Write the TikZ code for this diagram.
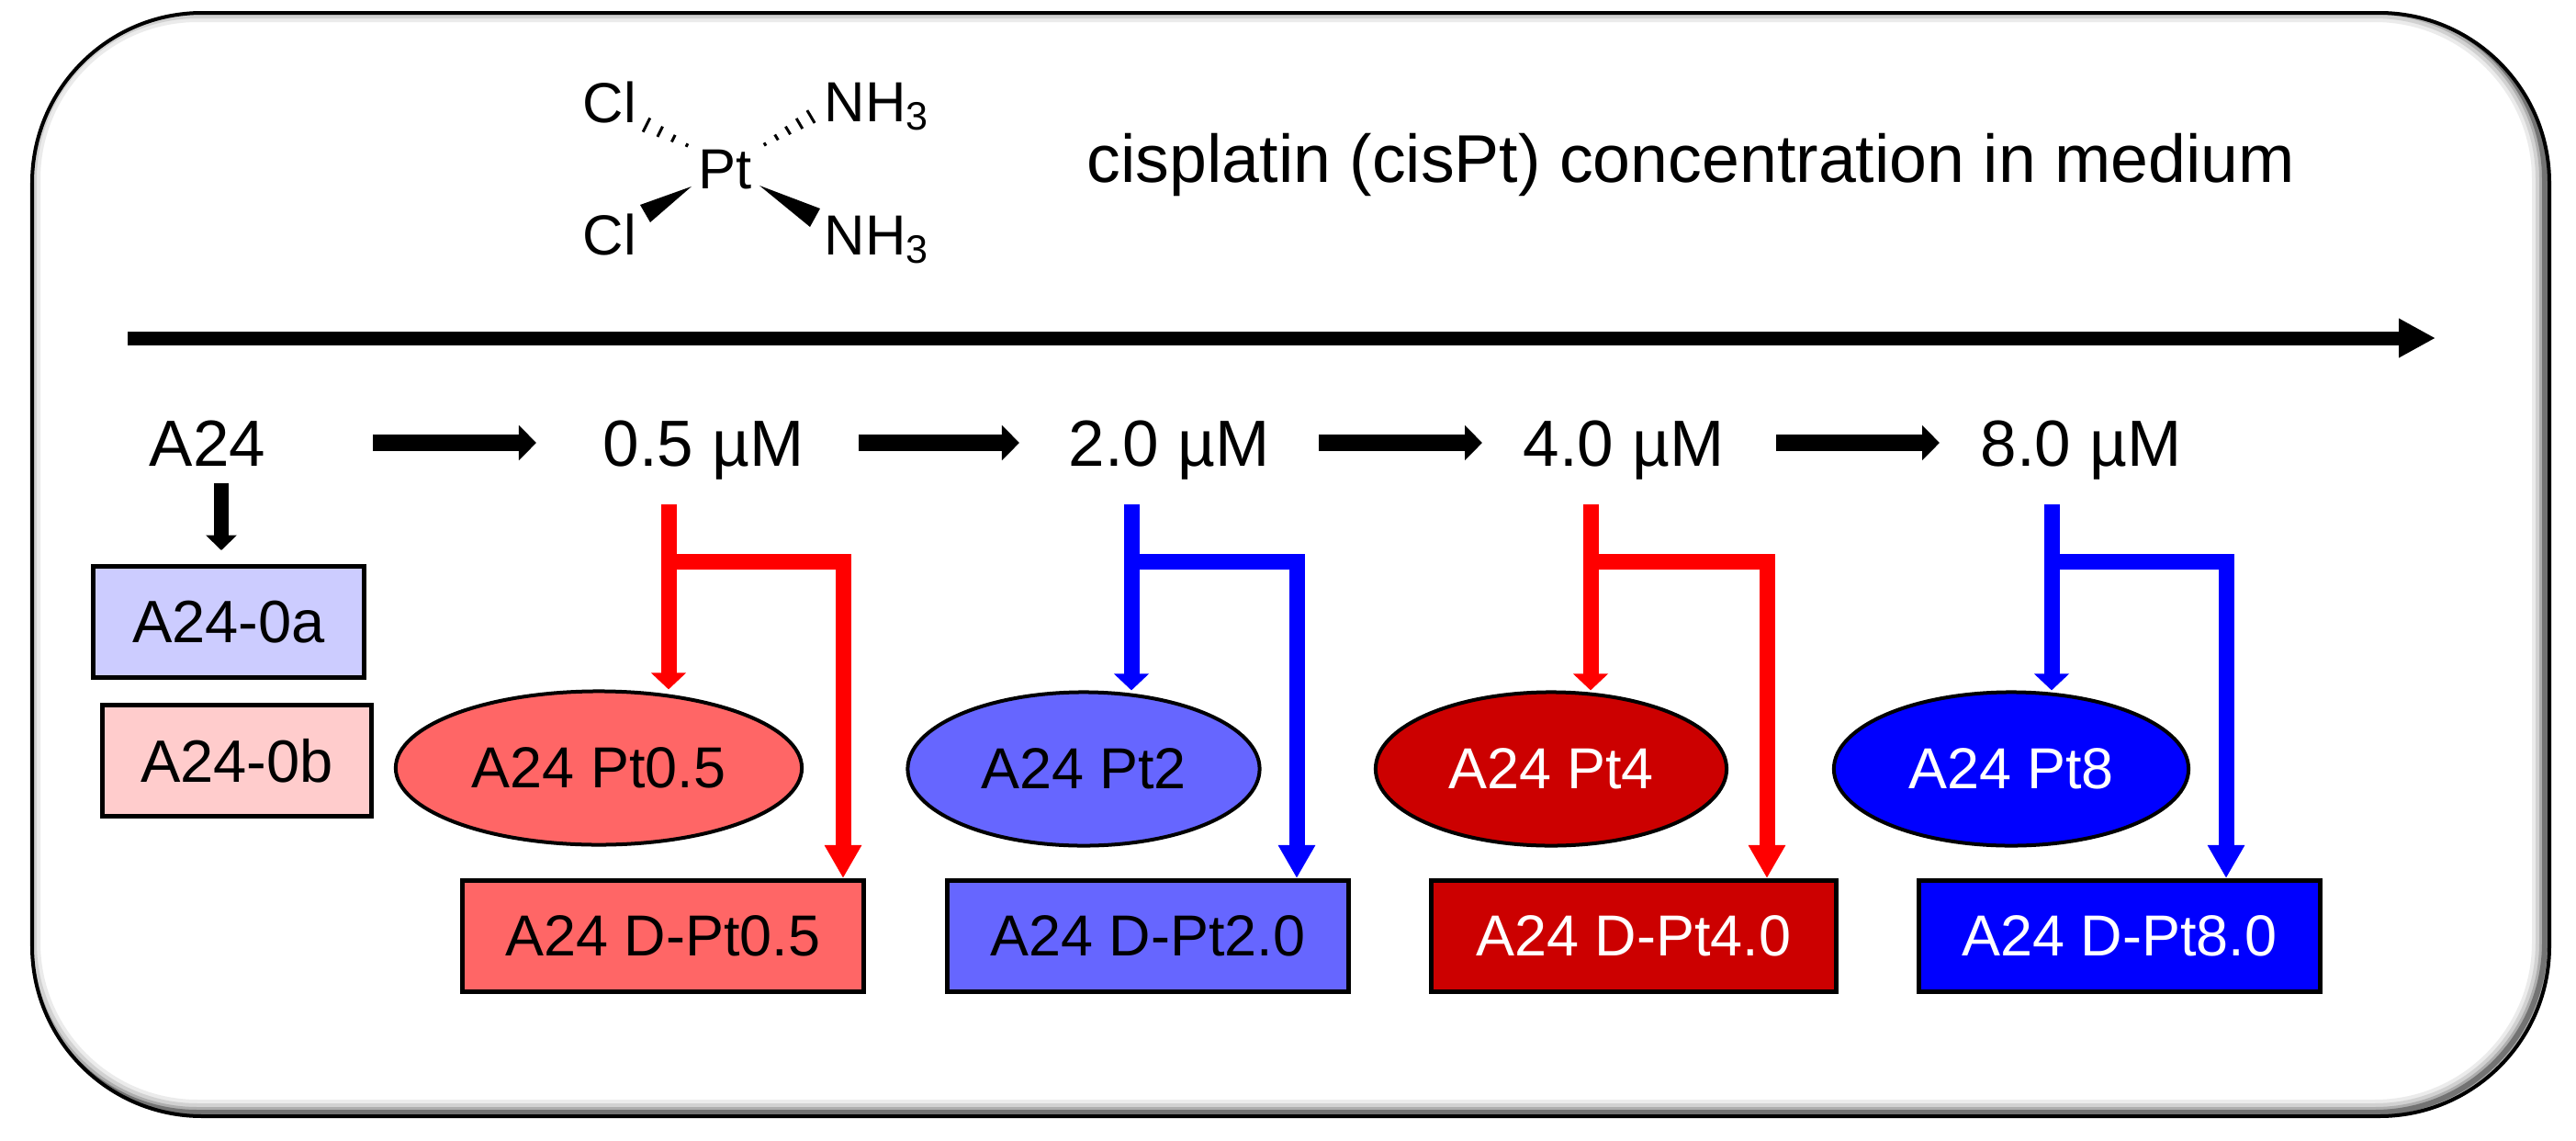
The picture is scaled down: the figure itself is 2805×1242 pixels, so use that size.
\documentclass[tikz,border=0pt]{standalone}
\usepackage{fontspec}
\setmainfont{Liberation Sans}
\usetikzlibrary{arrows.meta,shapes.geometric,calc}

\definecolor{lavbox}{HTML}{CCCCFF}
\definecolor{rosebox}{HTML}{FFCCCC}
\definecolor{ltred}{HTML}{FF6666}
\definecolor{ltblue}{HTML}{6666FF}
\definecolor{dkred}{HTML}{CC0000}
\definecolor{dkblue}{HTML}{0000FF}

\tikzset{
  conc/.style={font=\fontsize{20.2}{24}\selectfont, anchor=base},
  chem/.style={font=\fontsize{17.5}{20}\selectfont, anchor=base},
  sampbox/.style={rectangle, draw, line width=0.05cm, minimum height=1.21cm, font=\fontsize{18.5}{22}\selectfont},
  cellell/.style={ellipse, draw, line width=0.04cm, minimum height=1.67cm, font=\fontsize{17.9}{21}\selectfont},
  cellbox/.style={rectangle, draw, line width=0.05cm, minimum height=1.21cm, minimum width=4.36cm, font=\fontsize{17.9}{21}\selectfont},
  steparr/.style={line width=0.18cm, -{Triangle[length=0.19cm,width=0.37cm]}},
  branch/.style={line width=0.17cm, line join=miter},
  brshort/.style={-{Triangle[length=0.18cm,width=0.37cm]}},
  brlong/.style={-{Triangle[length=0.36cm,width=0.38cm]}},
  hash/.style={line width=0.03cm},
  frame/.style={rounded corners=1.85cm}
}

\begin{document}
\begin{tikzpicture}[x=0.01cm, y=-0.01cm, every node/.style={inner sep=0pt}]
  \useasboundingbox (0,0) rectangle (2805,1242);

  % frame with inner shadow
  \begin{scope}
    \clip[frame] (35,14) rectangle (2776,1215);
    \draw[frame, line width=0.28cm, black!8] (30,10) rectangle (2771,1211);
    \draw[frame, line width=0.2cm, black!18] (30,10) rectangle (2771,1211);
    \draw[frame, line width=0.12cm, black!32] (30,10) rectangle (2771,1211);
    \draw[frame, line width=0.06cm, black!55] (30,10) rectangle (2771,1211);
  \end{scope}
  \draw[frame, line width=0.04cm] (35,14) rectangle (2776,1215);

  % cisplatin
  \node[chem] (cl1) at (664,133) {Cl};
  \node[chem, anchor=base west] (nh1) at (897,132) {NH\textsubscript{3}};
  \node[chem] (pt) at (790,205) {Pt};
  \node[chem] (cl2) at (664,277) {Cl};
  \node[chem, anchor=base west] (nh2) at (897,277) {NH\textsubscript{3}};
  \draw[hash] (700.2,143.6) -- (707.8,128.4);
  \draw[hash] (715.9,148.9) -- (721.5,137.7);
  \draw[hash] (731.4,154.5) -- (735.2,146.9);
  \draw[hash] (747.1,159.8) -- (748.9,156.2);
  \draw[hash] (832.0,155.3) -- (834.0,158.7);
  \draw[hash] (843.7,146.5) -- (847.3,152.5);
  \draw[hash] (855.4,137.7) -- (860.6,146.3);
  \draw[hash] (867.2,128.9) -- (873.8,140.1);
  \draw[hash] (878.9,120.1) -- (887.1,133.9);
  \fill (753,203) -- (697,223) -- (708,242) -- cycle;
  \fill (827,202) -- (893,227) -- (882,247) -- cycle;

  \node[anchor=base west, font=\fontsize{20.9}{25}\selectfont] (title) at (1183,198) {cisplatin (cisPt) concentration in medium};

  % concentration axis
  \coordinate (ax0) at (139,368);
  \coordinate (ax1) at (2652,368);
  \draw[line width=0.15cm, -{Triangle[length=0.4cm,width=0.4cm]}] (ax0) -- (ax1);

  \node[conc] (a24) at (226,507) {A24};
  \node[conc] (c05) at (766,507) {0.5 µM};
  \node[conc] (c20) at (1273,507) {2.0 µM};
  \node[conc] (c40) at (1768,507) {4.0 µM};
  \node[conc] (c80) at (2266,507) {8.0 µM};

  \coordinate (h1a) at (406,482);
  \coordinate (h1b) at (584,482);
  \coordinate (h2a) at (935,482);
  \coordinate (h2b) at (1110,482);
  \coordinate (h3a) at (1436,482);
  \coordinate (h3b) at (1614,482);
  \coordinate (h4a) at (1934,482);
  \coordinate (h4b) at (2112,482);
  \draw[steparr] (h1a) -- (h1b);
  \draw[steparr] (h2a) -- (h2b);
  \draw[steparr] (h3a) -- (h3b);
  \draw[steparr] (h4a) -- (h4b);

  % untreated controls
  \node[sampbox, fill=lavbox, minimum width=2.95cm] (s0a) at (249,677) {A24-0a};
  \node[sampbox, fill=rosebox, minimum width=2.93cm] (s0b) at (258,828) {A24-0b};
  \coordinate (v0) at (241,526);
  \coordinate (v1) at (241,599);
  \draw[line width=0.155cm, -{Triangle[length=0.165cm,width=0.33cm]}] (v0) -- (v1);

  % treated lines
  \node[cellell, fill=ltred, minimum width=4.42cm] (p05) at (652,836) {A24 Pt0.5};
  \node[cellell, fill=ltblue, minimum width=3.83cm] (p20) at (1180,837) {A24 Pt2};
  \node[cellell, fill=dkred, text=white, minimum width=3.82cm] (p40) at (1689,837) {A24 Pt4};
  \node[cellell, fill=dkblue, text=white, minimum width=3.86cm] (p80) at (2190,837) {A24 Pt8};

  \node[cellbox, fill=ltred] (d05) at (722,1019) {A24 D-Pt0.5};
  \node[cellbox, fill=ltblue] (d20) at (1250,1019) {A24 D-Pt2.0};
  \node[cellbox, fill=dkred, text=white, minimum width=4.40cm] (d40) at (1779,1019) {A24 D-Pt4.0};
  \node[cellbox, fill=dkblue, text=white] (d80) at (2308,1019) {A24 D-Pt8.0};

  \coordinate (s05) at (728,549);
  \coordinate (b05) at (728,611);
  \coordinate (r05) at (918,611);
  \coordinate (s20) at (1232,549);
  \coordinate (b20) at (1232,611);
  \coordinate (r20) at (1412,611);
  \coordinate (s40) at (1732,549);
  \coordinate (b40) at (1732,611);
  \coordinate (r40) at (1924,611);
  \coordinate (s80) at (2234,549);
  \coordinate (b80) at (2234,611);
  \coordinate (r80) at (2424,611);

  \draw[branch, red, brshort] (s05) -- (s05 |- p05.north);
  \draw[branch, red, brlong] (b05) -- (r05) -- (r05 |- d05.north);
  \draw[branch, blue, brshort] (s20) -- (s20 |- p20.north);
  \draw[branch, blue, brlong] (b20) -- (r20) -- (r20 |- d20.north);
  \draw[branch, red, brshort] (s40) -- (s40 |- p40.north);
  \draw[branch, red, brlong] (b40) -- (r40) -- (r40 |- d40.north);
  \draw[branch, blue, brshort] (s80) -- (s80 |- p80.north);
  \draw[branch, blue, brlong] (b80) -- (r80) -- (r80 |- d80.north);
\end{tikzpicture}
\end{document}
